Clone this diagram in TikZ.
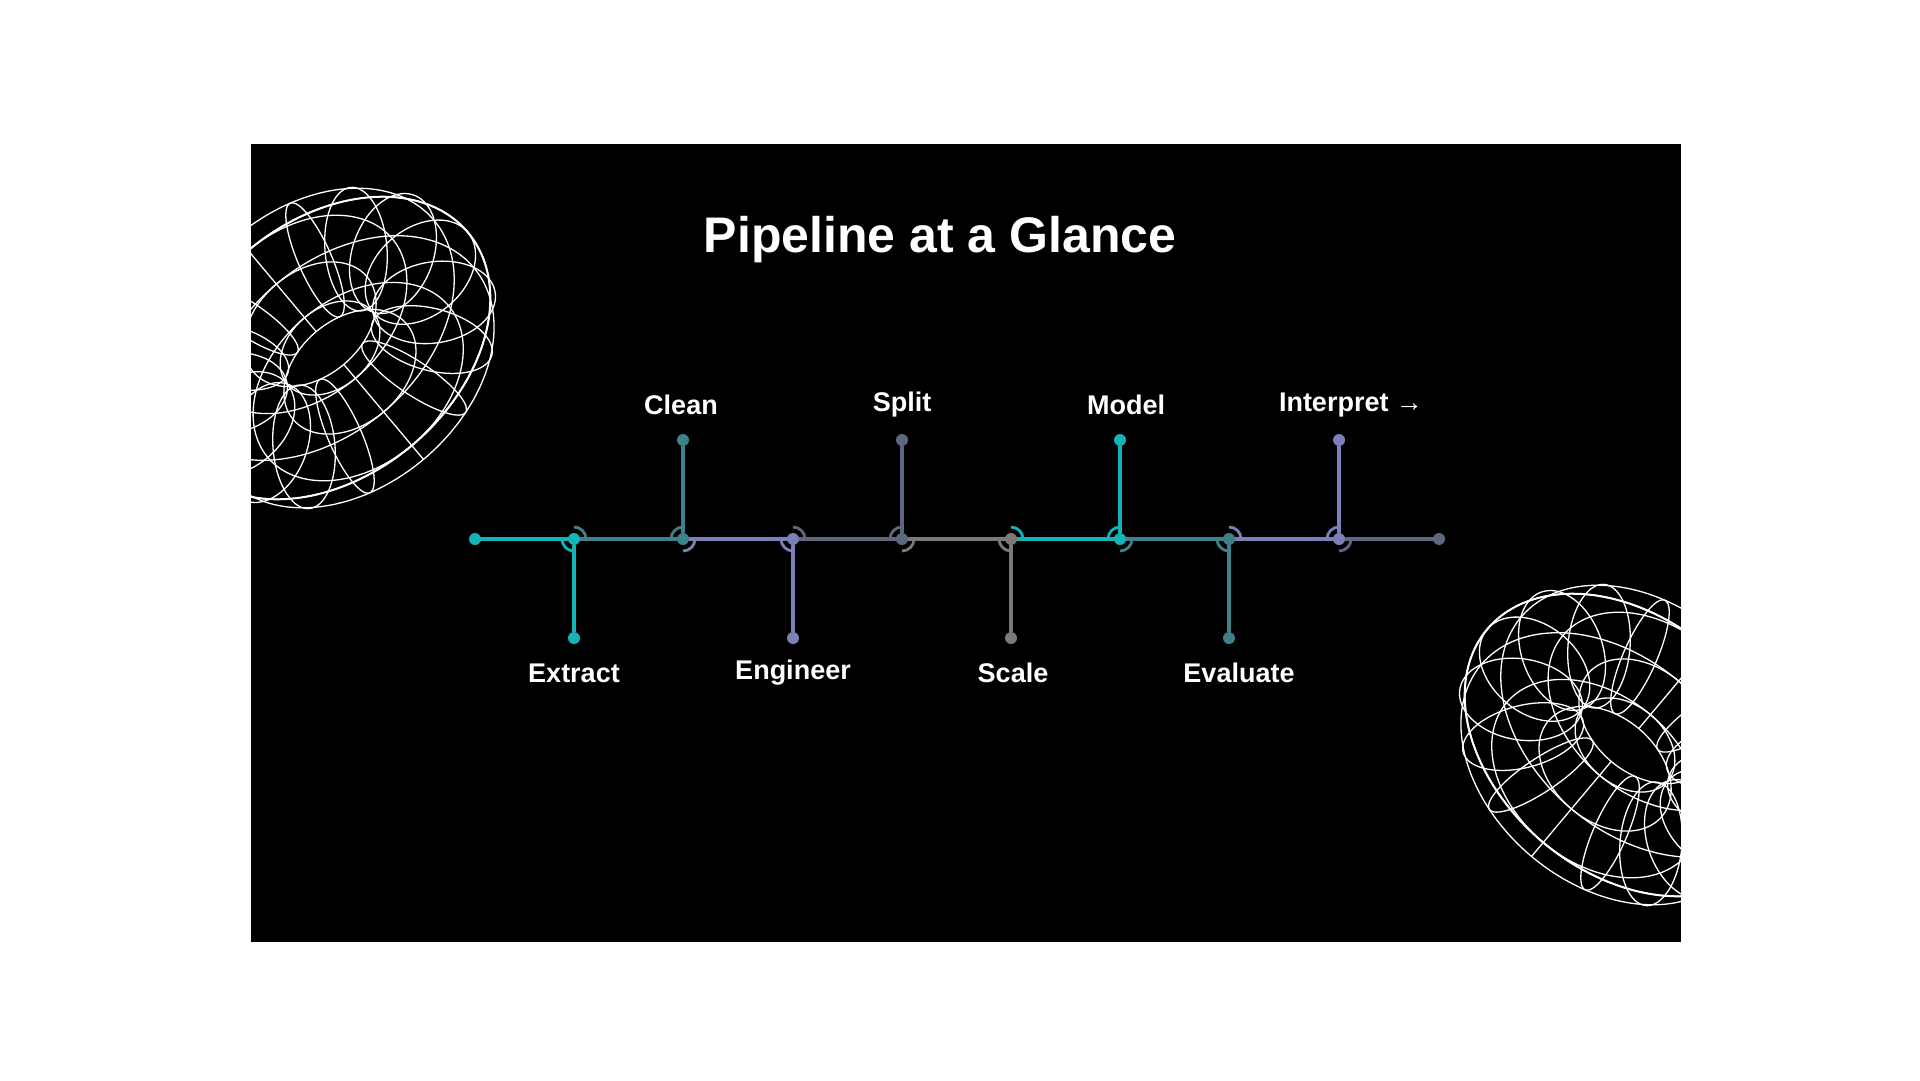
\documentclass[tikz,border=0pt]{standalone}
\usepackage{fontspec}
\setmainfont{Liberation Sans}
\usetikzlibrary{calc}
\definecolor{cyanA}{HTML}{14B3B8}
\definecolor{tealB}{HTML}{3F8189}
\definecolor{lavC}{HTML}{7C80B8}
\definecolor{slateD}{HTML}{5D6880}
\definecolor{grayE}{HTML}{7A7A7A}
\newcommand\mytorus[3]{%
\begin{scope}[shift={(#1,#2)},rotate=#3]
\foreach \u in {0,22.5,...,337.5}{\draw[wire] plot[smooth,domain=0:360,samples=40,variable=\v] ({(118+62*cos(\v))*cos(\u)},{(118+62*cos(\v))*sin(\u)*cos(45)+62*sin(\v)*sin(45)});}
\foreach \v in {0,45,...,315}{\draw[wire] plot[smooth,domain=0:360,samples=72,variable=\u] ({(118+62*cos(\v))*cos(\u)},{(118+62*cos(\v))*sin(\u)*cos(45)+62*sin(\v)*sin(45)});}
\draw[wire,line width=2pt] plot[smooth,domain=0:360,samples=72,variable=\u] ({180*cos(\u)},{180*sin(\u)*cos(45)});
\end{scope}}
\begin{document}
\begin{tikzpicture}[x=1pt,y=-1pt,
  wire/.style={white,line width=1.3pt},
  seg/.style={line width=3.2pt},
  dot/.style={circle,inner sep=0pt,minimum size=12pt},
  lab/.style={text=white,font=\bfseries\fontsize{27}{32}\selectfont},
  arcs/.style={line width=2.8pt}]
\fill[white] (0,0) rectangle (1920,1080);
\fill[black] (251,144) rectangle (1681,942);
\begin{scope}
\clip (251,144) rectangle (1681,942);
\mytorus{330}{348}{40}
\mytorus{1625}{745}{-40}
\end{scope}
\node[text=white,font=\bfseries\fontsize{50}{58}\selectfont] (title) at (940,240) {Pipeline at a Glance};
\foreach \n/\x in {s/475,a/574,b/683,c/793,d/902,e/1011,f/1120,g/1229,h/1339,z/1439}
  \coordinate (\n) at (\x,539);
\draw[seg,cyanA] (s) -- (a);
\draw[seg,tealB] (a) -- (b);
\draw[seg,lavC] (b) -- (c);
\draw[seg,slateD] (c) -- (d);
\draw[seg,grayE] (d) -- (e);
\draw[seg,cyanA] (e) -- (f);
\draw[seg,tealB] (f) -- (g);
\draw[seg,lavC] (g) -- (h);
\draw[seg,slateD] (h) -- (z);
\node[dot,fill=cyanA] (sd) at (s) {};
\node[dot,fill=slateD] (zd) at (z) {};
\foreach \n/\c/\pc/\nc/\dir/\dx/\txt in {
  a/cyanA/cyanA/tealB/1/0/Extract,
  b/tealB/tealB/lavC/-1/-2/Clean,
  c/lavC/lavC/slateD/1/0/Engineer,
  d/slateD/slateD/grayE/-1/0/Split,
  e/grayE/grayE/cyanA/1/2/Scale,
  f/cyanA/cyanA/tealB/-1/6/Model,
  g/tealB/tealB/lavC/1/10/Evaluate,
  h/lavC/lavC/slateD/-1/12/{Interpret →}}{
  \node[dot,fill=\c] (\n d) at (\n) {};
  \node[dot,fill=\c] (\n e) at ($(\n)+(0,99*\dir)$) {};
  \draw[seg,\c] (\n d) -- (\n e);
  \node[lab] (\n l) at ($(\n)+(\dx,134*\dir)$) {\txt};
  \ifnum\dir=1
    \draw[arcs,\pc] ([shift={(180:12)}]\n) arc[start angle=180,end angle=90,radius=12];
    \draw[arcs,\nc] ([shift={(270:12)}]\n) arc[start angle=270,end angle=360,radius=12];
  \else
    \draw[arcs,\pc] ([shift={(180:12)}]\n) arc[start angle=180,end angle=270,radius=12];
    \draw[arcs,\nc] ([shift={(90:12)}]\n) arc[start angle=90,end angle=0,radius=12];
  \fi
}
\end{tikzpicture}
\end{document}
